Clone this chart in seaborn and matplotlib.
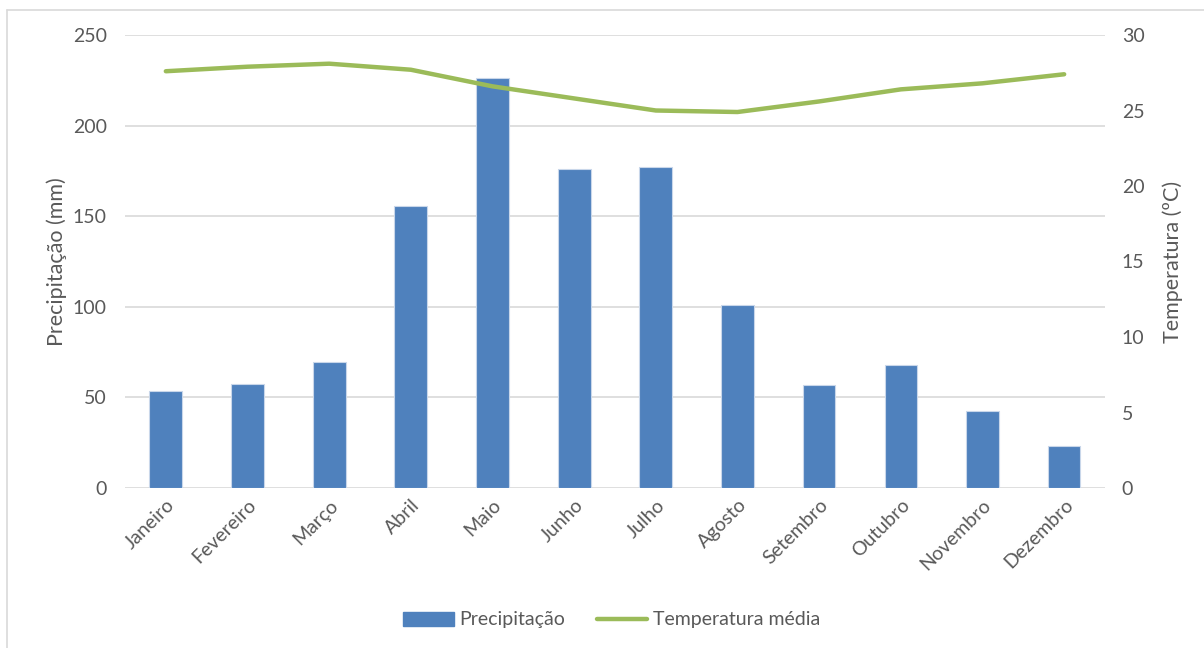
import numpy as np
import pandas as pd
import matplotlib
matplotlib.use("Agg")
import matplotlib.pyplot as plt
from matplotlib.lines import Line2D
from matplotlib.patches import Patch
import seaborn as sns

months = ["Janeiro", "Fevereiro", "Março", "Abril", "Maio", "Junho",
          "Julho", "Agosto", "Setembro", "Outubro", "Novembro", "Dezembro"]
precipitacao = [53.5, 57.4, 69.5, 155.8, 226.3, 176.0, 177.2, 101.0, 56.8, 67.9, 42.5, 23.2]
temperatura = [27.6, 27.9, 28.1, 27.7, 26.6, 25.8, 25.0, 24.9, 25.6, 26.4, 26.8, 27.4]

BAR = "#4F81BD"
LINE = "#9BBB59"
GRID = "#D9D9D9"
TEXT = "#595959"

sns.set_theme(style="white")
plt.rcParams["font.family"] = ["Lato", "DejaVu Sans"]

df = pd.DataFrame({"mes": months, "prec": precipitacao, "temp": temperatura})

fig = plt.figure(figsize=(12.04, 6.48), dpi=100)
ax = fig.add_axes([125 / 1204, 1 - 488 / 648, 980 / 1204, 453 / 648])

sns.barplot(data=df, x="mes", y="prec", color=BAR, saturation=1, width=0.4,
            edgecolor="#C9D7EA", linewidth=0.8, ax=ax, zorder=3)
ax.set_ylim(0, 250)
ax.set_xlim(-0.5, 11.5)
ax.set_yticks(np.arange(0, 251, 50))
ax.yaxis.grid(True, color=GRID, linewidth=1.2, zorder=0)
ax.set_axisbelow(True)
for s in ax.spines.values():
    s.set_visible(False)
ax.tick_params(axis="both", length=0, colors=TEXT, labelsize=14)
ax.tick_params(axis="y", pad=13)
ax.tick_params(axis="x", pad=6)
ax.set_xlabel("")
ax.set_ylabel("Precipitação (mm)", color=TEXT, fontsize=15.5, labelpad=4)
plt.setp(ax.get_xticklabels(), rotation=45, ha="right", rotation_mode="anchor")

ax2 = ax.twinx()
sns.lineplot(x=np.arange(len(months)), y=df["temp"], color=LINE, linewidth=3.2,
             ax=ax2, solid_capstyle="round")
ax2.set_ylim(0, 30)
ax2.set_yticks(np.arange(0, 31, 5))
for s in ax2.spines.values():
    s.set_visible(False)
ax2.tick_params(axis="y", length=0, colors=TEXT, labelsize=14, pad=12)
ax2.set_ylabel("Temperatura (ºC)", color=TEXT, fontsize=15.5, labelpad=13)
ax2.set_xlim(-0.5, 11.5)

handles = [Patch(facecolor=BAR, edgecolor=BAR),
           Line2D([0], [0], color=LINE, linewidth=3.2, solid_capstyle="round")]
leg = fig.legend(handles, ["Precipitação", "Temperatura média"], loc="center",
                 bbox_to_anchor=(0.508, 1 - 620 / 648), ncol=2, frameon=False,
                 fontsize=14, handlelength=2.6, handletextpad=0.3, columnspacing=1.6)
for t in leg.get_texts():
    t.set_color(TEXT)

# chart frame
fig.add_artist(Line2D([7 / 1204, 1], [1 - 10 / 648, 1 - 10 / 648], color=GRID,
                      linewidth=1.2, transform=fig.transFigure))
fig.add_artist(Line2D([7 / 1204, 7 / 1204], [0, 1 - 10 / 648], color=GRID,
                      linewidth=1.2, transform=fig.transFigure))

fig.savefig("out.png", dpi=100)
